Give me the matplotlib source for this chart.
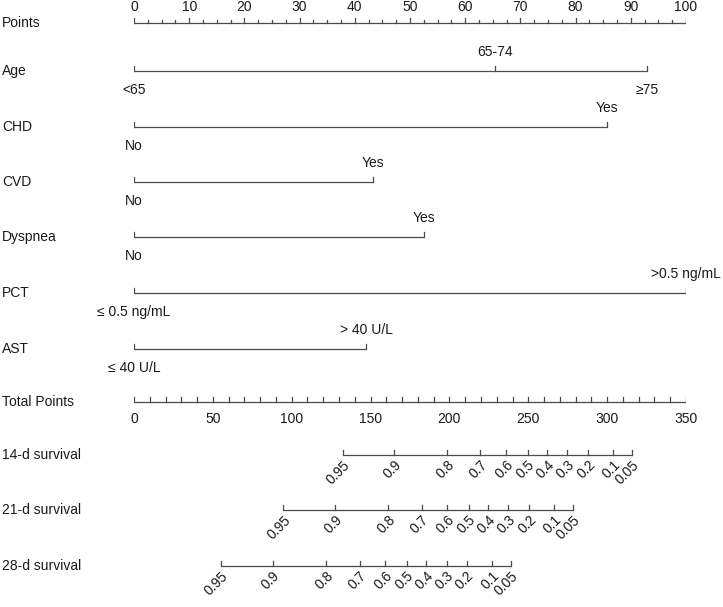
import numpy as np
import matplotlib
matplotlib.use("Agg")
import matplotlib.pyplot as plt
from matplotlib.transforms import blended_transform_factory

plt.rcParams['font.family'] = ['Liberation Sans', 'DejaVu Sans']

# ── Data ───────────────────────────────────────────────────────────────────────
POINT_TICKS = np.arange(0, 101, 10)
TOTAL_TICKS = np.arange(0, 351, 50)
TOTAL_MAX = 350

age_levels = ["<65", "65-74", "\u226575"]
age_points = [0, 65.4, 92.9]
chd_levels = ["No", "Yes"]
chd_points = [0, 85.7]
cvd_levels = ["No", "Yes"]
cvd_points = [0, 43.3]
dysp_levels = ["No", "Yes"]
dysp_points = [0, 52.6]
pct_levels = ["\u2264 0.5 ng/mL", ">0.5 ng/mL"]
pct_points = [0, 100]
ast_levels = ["\u2264 40 U/L", "> 40 U/L"]
ast_points = [0, 42.1]

surv_labels = ["0.95", "0.9", "0.8", "0.7", "0.6", "0.5", "0.4", "0.3", "0.2", "0.1", "0.05"]
surv14_total = [132.3, 164.7, 198.7, 219.6, 236.1, 249.6, 262.0, 274.8, 287.9, 303.8, 315.8]
surv21_total = [94.7, 127.4, 161.2, 182.4, 198.5, 212.2, 224.7, 237.4, 250.5, 266.5, 278.4]
surv28_total = [55.2, 87.9, 121.9, 143.1, 159.2, 172.9, 185.4, 198.3, 211.0, 227.0, 239.0]

# ── Layout ─────────────────────────────────────────────────────────────────────
W, H = 723, 607
LEFT_PX, RIGHT_PX = 134, 686
ROW_Y = {"Points": 23, "Age": 71, "CHD": 127, "CVD": 182, "Dyspnea": 237,
         "PCT": 293, "AST": 349, "Total Points": 402,
         "14-d survival": 455, "21-d survival": 510, "28-d survival": 566}
LC = "#4a4a4a"
TC = "#1a1a1a"
FS = 10
LW = 0.9
TICK = 5
LAB_OFF = 19

fig = plt.figure(figsize=(W / 100, H / 100), dpi=100)
ax = fig.add_axes([LEFT_PX / W, 0, (RIGHT_PX - LEFT_PX) / W, 1])
ax.set_xlim(0, 100)
ax.set_ylim(H, 0)
ax.axis("off")
lab_tr = blended_transform_factory(fig.transFigure, ax.transData)


def row_label(name):
    ax.text(2 / W, ROW_Y[name], name, transform=lab_tr, ha="left", va="center",
            fontsize=FS, color=TC)


def tot2pts(v):
    return np.asarray(v, dtype=float) * 100.0 / TOTAL_MAX


# Points
y = ROW_Y["Points"]
row_label("Points")
ax.plot([0, 100], [y, y], color=LC, lw=LW, solid_capstyle="butt")
for v in np.arange(0, 100.1, 2.5):
    ln = TICK if v % 10 == 0 else TICK - 2
    ax.plot([v, v], [y, y - ln], color=LC, lw=LW)
for v in POINT_TICKS:
    ax.text(v, 7, f"{v}", ha="center", va="center", fontsize=FS, color=TC)


def cat_row(name, levels, pts, above):
    yy = ROW_Y[name]
    row_label(name)
    ax.plot([min(pts), max(pts)], [yy, yy], color=LC, lw=LW, solid_capstyle="butt")
    for lev, p, up in zip(levels, pts, above):
        ax.plot([p, p], [yy, yy - TICK], color=LC, lw=LW)
        ax.text(p, yy - LAB_OFF if up else yy + LAB_OFF, lev, ha="center",
                va="center", fontsize=FS, color=TC)


cat_row("Age", age_levels, age_points, [False, True, False])
cat_row("CHD", chd_levels, chd_points, [False, True])
cat_row("CVD", cvd_levels, cvd_points, [False, True])
cat_row("Dyspnea", dysp_levels, dysp_points, [False, True])
cat_row("PCT", pct_levels, pct_points, [False, True])
cat_row("AST", ast_levels, ast_points, [False, True])

# Total points
y = ROW_Y["Total Points"]
row_label("Total Points")
ax.plot([0, 100], [y, y], color=LC, lw=LW, solid_capstyle="butt")
for v in np.arange(0, TOTAL_MAX + 1, 10):
    ax.plot([tot2pts(v)] * 2, [y, y - TICK], color=LC, lw=LW)
for v in TOTAL_TICKS:
    ax.text(tot2pts(v), y + 17, f"{v}", ha="center", va="center", fontsize=FS, color=TC)


def surv_row(name, totals):
    yy = ROW_Y[name]
    row_label(name)
    xs = tot2pts(totals)
    ax.plot([xs.min(), xs.max()], [yy, yy], color=LC, lw=LW, solid_capstyle="butt")
    for xv, lab in zip(xs, surv_labels):
        ax.plot([xv, xv], [yy, yy - TICK], color=LC, lw=LW)
        ax.text(xv, yy + 3, lab, ha="right", va="top", rotation=45,
                rotation_mode="anchor", fontsize=FS, color=TC)


surv_row("14-d survival", surv14_total)
surv_row("21-d survival", surv21_total)
surv_row("28-d survival", surv28_total)

fig.savefig("out.png", dpi=100)
